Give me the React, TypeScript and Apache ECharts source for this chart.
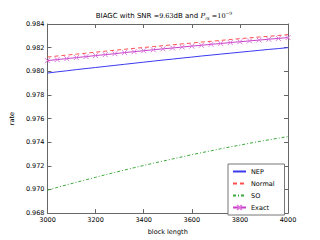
import React, { useEffect, useRef } from "react";
import * as echarts from "echarts";

const blockLengths = [3000, 3040, 3080, 3120, 3160, 3200, 3240, 3280, 3320, 3360, 3400, 3440, 3480, 3520, 3560, 3600, 3640, 3680, 3720, 3760, 3800, 3840, 3880, 3920, 3960, 4000];
const nepValues = [0.97985, 0.97995, 0.98004, 0.98014, 0.98023, 0.98032, 0.98041, 0.9805, 0.98059, 0.98068, 0.98077, 0.98086, 0.98095, 0.98103, 0.98112, 0.9812, 0.98129, 0.98137, 0.98145, 0.98153, 0.98161, 0.98169, 0.98177, 0.98185, 0.98192, 0.982];
const normalValues = [0.9812, 0.98129, 0.98137, 0.98145, 0.98153, 0.98162, 0.9817, 0.98178, 0.98186, 0.98194, 0.98201, 0.98209, 0.98217, 0.98224, 0.98232, 0.98239, 0.98247, 0.98254, 0.98261, 0.98269, 0.98276, 0.98283, 0.9829, 0.98296, 0.98303, 0.9831];
const soValues = [0.96994, 0.97017, 0.97039, 0.97061, 0.97082, 0.97103, 0.97124, 0.97144, 0.97164, 0.97184, 0.97203, 0.97222, 0.9724, 0.97258, 0.97276, 0.97294, 0.97311, 0.97327, 0.97344, 0.9736, 0.97375, 0.97391, 0.97406, 0.9742, 0.97434, 0.97448];
const exactValues = [0.9809, 0.98099, 0.98107, 0.98116, 0.98124, 0.98133, 0.98141, 0.98149, 0.98158, 0.98166, 0.98174, 0.98182, 0.9819, 0.98197, 0.98205, 0.98213, 0.9822, 0.98228, 0.98235, 0.98243, 0.9825, 0.98257, 0.98264, 0.98271, 0.98278, 0.98285];
const seriesNames = ["NEP", "Normal", "SO", "Exact"];

const pairs = (ys: number[]) => blockLengths.map((x, i) => [x, ys[i]]);

export default function App() {
  const ref = useRef<HTMLDivElement>(null);
  useEffect(() => {
    if (!ref.current) return;
    const chart = echarts.init(ref.current, null, { renderer: "svg" });
    const font = "DejaVu Sans";
    const frame = "#666";
    const xMark = "path://M0 0L10 10M10 0L0 10";
    const cNep = "#3a3af0";
    const cNormal = "#ff5050";
    const cSo = "#3aa83a";
    const cExact = "#c840c8";
    const dashNormal = [4, 3];
    const dashSo = [3, 2, 1, 2];
    const axisCommon = {
      splitLine: { show: false },
      axisLine: { show: true, onZero: false, lineStyle: { color: frame, width: 1 } },
      axisTick: { show: true, inside: true, length: 4, lineStyle: { color: frame } },
    };
    chart.setOption({
      animation: false,
      backgroundColor: "#fff",
      grid: { left: 40, right: 32, top: 24, bottom: 24 },
      graphic: [
        {
          type: "text",
          x: 164,
          y: 16,
          style: {
            text: "{a|BIAGC with SNR }{m|=9.63}{a|dB and }{i|P}{s|rs}{a| }{m|=10}{p|−9}",
            align: "center",
            verticalAlign: "middle",
            fontFamily: font,
            fontSize: 7,
            fill: "#000",
            rich: {
              a: { fontFamily: font, fontSize: 7, lineHeight: 10, fill: "#000" },
              m: { fontFamily: "DejaVu Serif", fontSize: 6.5, lineHeight: 10, fill: "#000" },
              i: { fontFamily: "DejaVu Serif", fontStyle: "italic", fontSize: 7, lineHeight: 10, fill: "#000" },
              s: { fontFamily: "DejaVu Serif", fontStyle: "italic", fontSize: 4.5, lineHeight: 10, verticalAlign: "bottom", fill: "#000" },
              p: { fontFamily: "DejaVu Serif", fontSize: 4.5, lineHeight: 10, verticalAlign: "top", fill: "#000" },
            },
          },
        },
      ],
      legend: {
        data: [
          { name: seriesNames[0], itemStyle: { opacity: 0 } },
          { name: seriesNames[1], itemStyle: { opacity: 0 } },
          { name: seriesNames[2], itemStyle: { opacity: 0 } },
          { name: seriesNames[3] },
        ],
        orient: "vertical",
        left: 228,
        top: 164,
        padding: [4, 10, 4, 4],
        itemWidth: 13,
        itemHeight: 6,
        itemGap: 5,
        borderColor: "#777",
        borderWidth: 1,
        backgroundColor: "#fff",
        borderRadius: 0,
        textStyle: { fontFamily: font, fontSize: 6.5, color: "#000" },
      },
      xAxis: [
        {
          ...axisCommon,
          type: "value",
          min: 3000,
          max: 4000,
          interval: 200,
          position: "bottom",
          name: "block length",
          nameLocation: "middle",
          nameGap: 9,
          nameTextStyle: { fontFamily: font, fontSize: 6.5, color: "#000" },
          axisLabel: {
            fontFamily: font,
            fontSize: 6.5,
            color: "#000",
            margin: 3,
            formatter: (v: number) => String(Math.round(v)),
          },
        },
        {
          ...axisCommon,
          type: "value",
          min: 3000,
          max: 4000,
          interval: 200,
          position: "top",
          axisLabel: { show: false },
        },
      ],
      yAxis: [
        {
          ...axisCommon,
          type: "value",
          min: 0.968,
          max: 0.984,
          interval: 0.002,
          position: "left",
          name: "rate",
          nameLocation: "middle",
          nameGap: 24,
          nameRotate: 90,
          nameTextStyle: { fontFamily: font, fontSize: 6.5, color: "#000" },
          axisLabel: {
            fontFamily: font,
            fontSize: 6.5,
            color: "#000",
            margin: 3,
            formatter: (v: number) => v.toFixed(3),
          },
        },
        {
          ...axisCommon,
          type: "value",
          min: 0.968,
          max: 0.984,
          interval: 0.002,
          position: "right",
          axisLabel: { show: false },
        },
      ],
      series: [
        {
          name: "NEP",
          type: "line",
          data: pairs(nepValues),
          symbol: "none",
          lineStyle: { color: cNep, width: 1 },
          itemStyle: { color: cNep },
        },
        {
          name: "Normal",
          type: "line",
          data: pairs(normalValues),
          symbol: "none",
          lineStyle: { color: cNormal, width: 1, type: dashNormal },
          itemStyle: { color: cNormal },
        },
        {
          name: "SO",
          type: "line",
          data: pairs(soValues),
          symbol: "none",
          lineStyle: { color: cSo, width: 1, type: dashSo },
          itemStyle: { color: cSo },
        },
        {
          name: "Exact",
          type: "line",
          data: pairs(exactValues),
          symbol: xMark,
          symbolSize: 5,
          showAllSymbol: true,
          legendIcon: xMark,
          lineStyle: { color: cExact, width: 1 },
          itemStyle: { color: "transparent", borderColor: "#dd77dd", borderWidth: 1 },
        },
      ],
    });
    return () => chart.dispose();
  }, []);
  return (
    <div
      ref={ref}
      style={{ position: "absolute", left: 0, top: 0, width: 320, height: 240 }}
    />
  );
}
